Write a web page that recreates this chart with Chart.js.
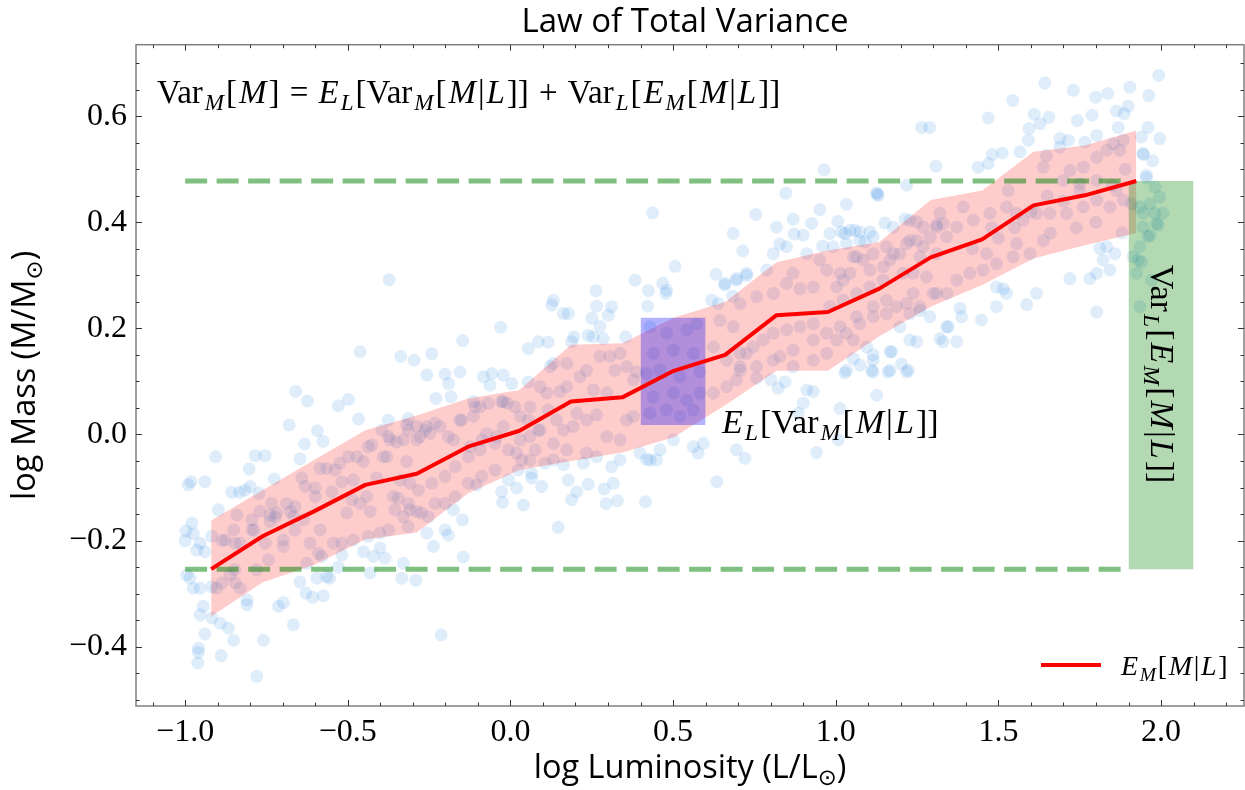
<!DOCTYPE html>
<html>
<head>
<meta charset="utf-8">
<title>Law of Total Variance</title>
<script src="https://cdn.jsdelivr.net/npm/chart.js@4.4.1/dist/chart.umd.min.js"></script>
<style>
  html, body { margin: 0; padding: 0; background: #fff; overflow: hidden; }
  #wrap { width: 1245px; height: 790px; }
</style>
</head>
<body>
<div id="wrap"><canvas id="ltv"></canvas></div>
<script>
// sample of stars: [log L, log M]
const stars = [
  [-0.462,0.156],[-0.337,0.147],[-0.296,0.140],[-0.257,0.112],[-0.660,0.081],[-0.624,0.063],[-0.529,0.054],[-0.498,0.066],
  [-0.467,0.029],[-0.680,0.018],[-0.593,0.007],[-0.576,-0.013],[-0.633,-0.018],[-0.906,-0.042],[-0.784,-0.040],[-0.754,-0.040],
  [-0.803,-0.065],[-0.647,-0.046],[-0.982,-0.089],[-0.990,-0.095],[-0.939,-0.089],[-0.726,-0.084],[-0.857,-0.109],[-0.833,-0.109],
  [-0.816,-0.105],[-0.800,-0.098],[-0.773,-0.111],[-0.898,-0.142],[-0.979,-0.167],[-0.997,-0.182],[-0.975,-0.187],[-1.000,-0.200],
  [-0.954,-0.205],[-0.964,-0.218],[-0.939,-0.221],[-0.918,-0.192],[-0.995,-0.265],[-0.985,-0.271],[-0.975,-0.290],[-0.954,-0.290],
  [-0.918,-0.287],[-0.944,-0.324],[-0.954,-0.340],[-0.918,-0.346],[-0.892,-0.356],[-0.867,-0.365],[-0.939,-0.376],[-0.851,-0.388],
  [-0.759,-0.388],[-0.959,-0.403],[-0.810,-0.321],[-0.713,-0.324],[-0.698,-0.317],[-0.667,-0.359],[-0.647,-0.278],[-0.629,-0.299],
  [-0.608,-0.307],[-0.575,-0.304],[-0.595,-0.271],[-0.565,-0.268],[-0.556,-0.271],[-0.529,-0.250],[-0.431,-0.261],[-0.334,-0.271],
  [-0.291,-0.275],[-0.329,-0.243],[-0.401,-0.214],[-0.386,-0.233],[-0.421,-0.230],[-0.452,-0.221],[-0.518,-0.227],
  [-0.780,-0.456],[-0.213,-0.378],[-0.889,-0.417],[-0.959,-0.411],[-0.961,-0.431],[-0.810,-0.312],
  [-0.201,0.114],[-0.155,0.118],[-0.190,0.096],[-0.229,0.068],[-0.183,0.071],[-0.083,0.109],[-0.063,0.093],[-0.022,0.112],
  [0.004,0.096],[0.055,0.099],[-0.027,-0.108],[-0.024,-0.128],[0.040,-0.133],[0.065,-0.082],[0.019,-0.101],[-0.257,-0.186],
  [-0.237,-0.211],[-0.191,-0.190],[-0.201,-0.180],[-0.147,-0.161],[-0.145,-0.231],[-0.175,-0.142],[-0.104,-0.095],
  [-0.887,-0.200],[-0.877,-0.199],[-0.851,-0.180],[-0.841,-0.152],[-0.831,-0.205],[-0.795,-0.161],[-0.788,-0.180],[-0.770,-0.145],
  [-0.754,-0.205],[-0.739,-0.152],[-0.718,-0.148],[-0.734,-0.130],[-0.688,-0.130],[-0.677,-0.145],[-0.698,-0.199],[-0.698,-0.211],
  [-0.744,-0.236],[-0.780,-0.255],[-0.846,-0.280],[-0.831,-0.290],[-0.903,-0.290],[-0.862,-0.265],[-0.662,-0.180],[-0.641,-0.082],
  [-0.631,-0.098],[-0.600,-0.101],[-0.585,-0.064],[-0.565,-0.064],[-0.549,-0.108],[-0.585,-0.180],[-0.616,-0.205],[-0.590,-0.224],
  [-0.626,-0.243],[-0.544,-0.205],[-0.524,-0.054],[-0.518,-0.089],[-0.483,-0.086],[-0.488,-0.123],[-0.462,-0.130],[-0.503,-0.148],
  [-0.472,-0.042],[-0.452,-0.051],[-0.426,-0.020],[-0.395,0.008],[-0.380,-0.042],[-0.442,-0.117],[-0.411,-0.082],[-0.431,-0.145],
  [-0.401,-0.186],[-0.483,-0.199],[-0.360,-0.117],[-0.344,-0.120],[-0.339,-0.086],[-0.319,-0.051],[-0.309,-0.092],[-0.309,-0.142],
  [-0.288,-0.145],[-0.329,-0.155],[-0.370,-0.010],[-0.350,-0.014],[-0.329,-0.010],[-0.288,-0.010],[-0.278,-0.004],[-0.391,-0.042],
  [-0.288,0.015],[-0.319,0.018],[-0.257,0.015],[-0.375,0.027],[-0.314,0.030],[-0.739,-0.164],[-0.667,-0.155],[-0.636,-0.161],
  [-0.262,0.008],[-0.232,0.021],[-0.191,-0.004],[-0.150,0.027],[-0.109,0.052],[-0.068,0.059],[-0.027,0.062],[0.014,0.052],
  [0.055,0.027],[0.086,0.008],[0.116,0.046],[-0.129,-0.042],[-0.170,-0.061],[-0.201,-0.079],[-0.242,-0.092],[-0.283,-0.105],
  [-0.314,-0.130],[-0.355,-0.142],[-0.088,-0.010],[-0.047,-0.017],[-0.006,-0.029],[0.035,-0.048],[0.076,-0.029],[0.106,-0.054],
  [-0.129,-0.092],[-0.088,-0.079],[-0.047,-0.067],[-0.006,-0.086],[0.024,-0.067],[0.065,-0.073],[0.096,-0.098],[-0.170,-0.117],
  [-0.232,-0.130],[-0.273,-0.148],
  [-0.580,-0.230],[-0.518,-0.205],[-0.437,-0.192],[-0.375,-0.180],[-0.314,-0.174],[-0.252,-0.155],[-0.201,-0.130],
  [-0.539,-0.067],[-0.498,-0.042],[-0.437,-0.023],[-0.375,-0.004],[-0.314,0.008],[-0.847,-0.205],[-0.795,-0.180],
  [-0.723,-0.155],[-0.662,-0.136],[-0.600,-0.117],[-0.847,-0.255],[-0.887,-0.280],
  [0.685,0.379],[0.714,0.346],[0.506,0.317],[0.383,0.291],[0.468,0.285],[0.480,0.272],[0.478,0.266],[0.424,0.271],
  [0.632,0.302],[0.659,0.282],[0.695,0.294],[0.422,0.242],[0.263,0.271],[0.265,0.242],[0.311,0.241],[0.301,0.225],
  [0.250,0.219],[0.275,0.204],[0.132,0.253],[0.127,0.244],[0.163,0.228],[0.178,0.228],[0.239,0.187],[0.255,0.184],
  [0.285,0.181],[0.354,0.184],[0.195,0.184],[0.188,0.175],[0.086,0.175],[0.116,0.174],[0.055,0.162],[-0.030,0.202],
  [-0.147,0.177],[-0.242,0.152],[-0.057,0.115],[0.122,0.128],[0.619,0.253],[0.639,0.247],[0.683,0.261],[-0.373,0.292],
  [-0.114,0.062],[-0.093,0.052],[-0.022,0.062],[-0.010,0.059],[0.030,0.034],[0.060,0.052],[0.091,0.090],[0.112,0.078],
  [0.152,0.081],[0.173,0.090],[0.132,0.134],[0.173,0.134],[0.214,0.109],[0.234,0.121],[0.275,0.147],[0.306,0.147],
  [0.337,0.153],[0.321,0.121],[0.357,0.128],[0.378,0.103],[0.388,0.118],[0.255,0.084],[0.296,0.078],[0.204,0.040],
  [0.234,0.027],[0.265,0.037],[0.357,0.027],[0.378,0.034],[0.296,-0.004],[0.337,-0.010],[0.234,-0.035],[0.265,-0.042],
  [0.173,-0.029],[0.132,-0.017],[0.163,0.008],[0.193,0.015],[0.142,0.027],[0.091,0.008],[0.060,-0.004],[0.030,-0.010],
  [-0.022,0.015],[-0.042,-0.004],[-0.073,0.002],[-0.093,-0.029],[-0.124,-0.023],[-0.175,-0.010],[-0.216,0.015],[-0.247,0.002],
  [-0.155,0.027],[-0.114,0.034],[0.019,-0.035],[0.060,-0.048],[0.132,-0.048],[0.163,-0.057],
  [0.429,0.203],[0.480,0.191],[0.542,0.197],[0.573,0.209],[0.439,0.153],[0.501,0.159],[0.562,0.153],[0.419,0.115],
  [0.460,0.121],[0.521,0.109],[0.583,0.118],[0.439,0.071],[0.501,0.078],[0.542,0.065],[0.583,0.078],[0.429,0.040],
  [0.480,0.046],[0.521,0.034],[0.562,0.046],[0.644,0.215],[0.685,0.203],[0.706,0.247],[0.624,0.165],[0.706,0.128],
  [0.726,0.153],[0.624,0.078],[0.665,0.090],[0.695,0.103],
  [0.501,-0.010],[0.562,-0.023],[0.593,-0.017],[0.460,-0.029],[0.429,-0.048],[0.398,-0.035],[0.695,-0.029],[0.721,-0.045],
  [0.577,-0.035],[0.178,-0.086],[0.204,-0.108],[0.188,-0.123],[0.239,-0.094],[0.288,-0.103],[0.316,-0.092],[0.294,-0.130],
  [0.329,-0.125],[0.415,-0.127],[0.147,-0.175],[0.634,-0.089],[0.311,-0.061],[0.337,-0.048],[0.224,-0.054],[0.419,-0.047],
  [0.449,-0.048],[0.941,-0.034],[1.013,0.049],[1.008,-0.010],[1.126,0.074],[0.900,0.059],[0.885,0.040],[0.911,0.084],
  [0.931,0.081],[0.823,0.087],[0.844,0.099],[0.801,0.103],[1.115,0.118],[1.161,0.118],[1.218,0.118],[0.757,0.106],
  [1.264,0.579],[1.289,0.579],[1.308,0.506],[0.964,0.499],[1.218,0.470],[0.846,0.455],[1.127,0.453],[1.033,0.434],
  [0.951,0.424],[0.437,0.418],[0.754,0.415],[0.869,0.406],[0.926,0.398],[0.818,0.391],[1.006,0.402],[1.151,0.399],
  [1.213,0.406],[0.872,0.378],[0.900,0.376],[0.982,0.379],[1.018,0.382],[1.044,0.385],[1.074,0.382],[1.105,0.382],
  [0.828,0.359],[0.849,0.354],[0.960,0.355],[0.808,0.341],[0.659,0.285],[0.695,0.291],[0.726,0.300],
  [0.757,0.260],[0.808,0.266],[0.849,0.285],[0.890,0.275],[0.931,0.278],[0.972,0.310],[1.013,0.304],[1.054,0.335],
  [1.085,0.329],[1.115,0.341],[1.156,0.354],[1.197,0.341],[1.228,0.366],[1.269,0.354],[1.310,0.395],[1.341,0.373],
  [1.279,0.297],[1.310,0.266],[1.238,0.304],[1.167,0.329],[1.146,0.291],[1.105,0.278],[1.064,0.266],[1.023,0.253],
  [0.982,0.241],[0.931,0.209],[0.890,0.203],[0.849,0.197],[0.808,0.191],[0.777,0.178],[0.746,0.165],[0.706,0.153],
  [0.665,0.140],[1.013,0.203],[1.064,0.222],[1.115,0.241],[1.156,0.253],[1.218,0.247],[1.259,0.234],[0.972,0.191],
  [0.931,0.178],[0.869,0.159],[0.828,0.147],
  [0.726,0.304],[0.788,0.310],[0.869,0.304],[0.911,0.341],[0.951,0.329],[0.992,0.354],[1.033,0.360],[1.074,0.366],
  [1.115,0.373],[1.177,0.391],[1.269,0.391],[1.320,0.417],[0.706,0.121],[0.757,0.128],[0.808,0.140],[0.869,0.128],
  [0.931,0.140],[0.972,0.153],[1.054,0.178],
  [1.033,0.121],[1.074,0.131],[1.115,0.140],[1.167,0.156],[1.228,0.178],[1.249,0.175],[1.320,0.181],[1.341,0.203],
  [1.289,0.222],[1.095,0.165],
  [1.993,0.677],[1.643,0.663],[1.730,0.649],[1.799,0.636],[1.836,0.643],[1.904,0.655],[1.962,0.639],[1.544,0.630],
  [1.469,0.597],[1.610,0.604],[1.655,0.598],[1.628,0.586],[1.594,0.577],[1.743,0.592],[1.788,0.602],[1.863,0.610],
  [1.887,0.605],[1.899,0.619],[1.868,0.579],[1.960,0.579],[1.996,0.558],[1.940,0.561],[1.592,0.555],[1.566,0.533],
  [1.689,0.558],[1.715,0.555],[1.766,0.551],[1.802,0.564],[1.481,0.528],[1.469,0.511],[1.512,0.531],[1.438,0.504],
  [1.945,0.528],[1.974,0.516],[1.126,0.456],[1.131,0.451],[1.028,0.379],[1.059,0.385],[1.090,0.363],[1.228,0.404],
  [1.249,0.401],[1.955,0.484],[1.981,0.467],[1.996,0.448],[2.006,0.417],[1.986,0.398],[1.966,0.376],[1.945,0.391],
  [1.909,0.435],[1.935,0.429],
  [1.833,0.354],[1.858,0.341],[1.822,0.329],[1.843,0.310],[1.802,0.304],[1.781,0.294],[1.914,0.335],[1.940,0.325],
  [1.720,0.294],[1.617,0.266],[1.587,0.245],[1.802,0.231],[1.494,0.278],[1.515,0.275],[1.525,0.266],[1.494,0.241],
  [1.448,0.216],[1.382,0.238],[1.387,0.222],[1.346,0.203],[1.330,0.175],[1.372,0.175],[1.197,0.203],[1.172,0.156],
  [1.115,0.150],[1.110,0.121],[1.054,0.143],[1.028,0.116],[1.167,0.121],[1.223,0.121],[1.202,0.133],
  [1.966,0.435],[1.945,0.417],[1.981,0.417],[1.991,0.395],[1.960,0.373],[1.935,0.354],[1.930,0.329],[1.925,0.304],
  [1.971,0.291],[1.935,0.241],[1.955,0.489],[1.945,0.530],[1.812,0.351],
  [1.720,0.498],[1.761,0.504],[1.802,0.523],[1.833,0.536],[1.873,0.536],[1.884,0.555],[1.853,0.548],[1.648,0.526],
  [1.689,0.542],[1.638,0.504],[1.699,0.479],[1.750,0.473],[1.802,0.479],[1.863,0.460],[1.884,0.442],[1.843,0.429],
  [1.802,0.442],[1.761,0.429],[1.710,0.417],[1.658,0.417],[1.617,0.417],[1.576,0.404],[1.556,0.417],[1.525,0.429],
  [1.474,0.417],[1.423,0.404],[1.392,0.429],[1.372,0.391],[1.330,0.398],[1.310,0.391],[1.290,0.372],[1.249,0.366],
  [1.218,0.360],[1.177,0.341],[1.146,0.316],[1.105,0.310],[1.064,0.335],[1.044,0.304],[1.023,0.291],[1.003,0.278],
  [1.597,0.341],[1.638,0.366],[1.545,0.335],[1.494,0.322],[1.453,0.310],[1.412,0.304],[1.372,0.291],[1.341,0.266],
  [1.300,0.266],[1.259,0.241],[1.228,0.228],[1.187,0.241],[1.156,0.228],[1.115,0.222],[1.074,0.209],[1.033,0.191],
  [1.003,0.178],[1.556,0.360],[1.464,0.341],[1.259,0.335],[1.207,0.304],[1.238,0.266],[1.310,0.341],
  [1.500,0.370],[1.550,0.390],[1.600,0.420],[1.650,0.450],[1.700,0.440],[1.750,0.460],[1.800,0.400],[1.850,0.470],
  [1.890,0.500],[1.880,0.380],[1.420,0.350],[1.480,0.390],[1.530,0.460],[1.660,0.380],[1.740,0.390]
];

// binned conditional mean of log M and its spread
const binLum   = [-0.920,-0.762,-0.604,-0.446,-0.288,-0.130,0.028,0.186,0.344,0.502,0.660,0.818,0.976,1.134,1.292,1.450,1.608,1.766,1.924];
const binMean  = [-0.254,-0.192,-0.145,-0.095,-0.074,-0.023,0.007,0.062,0.070,0.120,0.150,0.225,0.231,0.275,0.334,0.368,0.432,0.451,0.478];
const binUpper = [-0.162,-0.105,-0.048,0.008,0.036,0.068,0.084,0.169,0.172,0.220,0.250,0.325,0.347,0.363,0.442,0.460,0.533,0.545,0.573];
const binLower = [-0.343,-0.279,-0.246,-0.198,-0.185,-0.111,-0.067,-0.050,-0.034,-0.005,0.055,0.120,0.120,0.185,0.241,0.282,0.332,0.357,0.380];

// spread of one bin, and the range of the mean
const boxLum  = [0.4, 0.6];
const boxMass = [0.018, 0.22];
const spanLum = [1.9, 2.1];
const guideLum = [-1.0, 1.9];

const xTicks = [-1.0, -0.5, 0.0, 0.5, 1.0, 1.5, 2.0];
const yTicks = [-0.4, -0.2, 0.0, 0.2, 0.4, 0.6];

const meanMax = Math.max(...binMean);
const meanMin = Math.min(...binMean);

const SERIF = '"Liberation Serif", "Times New Roman", serif';
const SANS = '"Open Sans", "DejaVu Sans", sans-serif';

const toPts = (xs, ys) => xs.map((x, i) => ({x: x, y: ys[i]}));
const hline = (y) => [{x: guideLum[0], y: y}, {x: guideLum[1], y: y}];
const fmt = v => (v < 0 ? '\u2212' : '') + Math.abs(v).toFixed(1);

// draws runs of [text, style]; style 'rm' upright, 'it' italic, 'sb' italic subscript
function drawMath(ctx, runs, x, y, size, align) {
  const kern = size * 0.06;
  let w = 0;
  const parts = runs.map(([t, s]) => {
    const fs = s === 'sb' ? size * 0.7 : size;
    const font = (s === 'rm' ? '' : 'italic ') + fs + 'px ' + SERIF;
    ctx.font = font;
    const pw = ctx.measureText(t).width + kern;
    w += pw;
    return {t: t, font: font, pw: pw, dy: s === 'sb' ? size * 0.2 : 0};
  });
  let cx = align === 'center' ? x - w / 2 : x;
  ctx.textAlign = 'left';
  ctx.textBaseline = 'alphabetic';
  parts.forEach(p => {
    ctx.font = p.font;
    ctx.fillText(p.t, cx, y + p.dy);
    cx += p.pw;
  });
}

// sans label, centred, with a small subscript part ('s')
function drawLabel(ctx, runs, x, y, size) {
  let w = 0;
  const parts = runs.map(([t, s]) => {
    const fs = s === 's' ? size * 0.7 : size;
    const font = fs + 'px ' + SANS;
    ctx.font = font;
    const pw = ctx.measureText(t).width;
    w += pw;
    return {t: t, font: font, pw: pw, dy: s === 's' ? size * 0.22 : 0};
  });
  let cx = x - w / 2;
  ctx.textAlign = 'left';
  ctx.textBaseline = 'alphabetic';
  parts.forEach(p => {
    ctx.font = p.font;
    ctx.fillText(p.t, cx, y + p.dy);
    cx += p.pw;
  });
}

const topFormula = [
  ['Var','rm'],['M','sb'],['[','rm'],['M','it'],[']','rm'],[' = ','rm'],
  ['E','it'],['L','sb'],['[Var','rm'],['M','sb'],['[','rm'],['M','it'],['|','rm'],['L','it'],[']]','rm'],[' + ','rm'],
  ['Var','rm'],['L','sb'],['[','rm'],['E','it'],['M','sb'],['[','rm'],['M','it'],['|','rm'],['L','it'],[']]','rm']
];
const withinLabel = [['E','it'],['L','sb'],['[Var','rm'],['M','sb'],['[','rm'],['M','it'],['|','rm'],['L','it'],[']]','rm']];
const betweenLabel = [['Var','rm'],['L','sb'],['[','rm'],['E','it'],['M','sb'],['[','rm'],['M','it'],['|','rm'],['L','it'],[']]','rm']];
const legendLabel = [['E','it'],['M','sb'],['[','rm'],['M','it'],['|','rm'],['L','it'],[']','rm']];

const decorations = {
  id: 'decorations',
  beforeDraw(chart) {
    const ctx = chart.ctx;
    ctx.save();
    ctx.fillStyle = '#fff';
    ctx.fillRect(0, 0, chart.width, chart.height);
    ctx.restore();
  },
  afterDraw(chart) {
    const {ctx, chartArea: a, scales: {x, y}} = chart;
    ctx.save();

    // frame
    ctx.strokeStyle = '#7f7f7f';
    ctx.lineWidth = 1.5;
    ctx.strokeRect(a.left, a.top, a.right - a.left, a.bottom - a.top);

    // inward ticks on all four sides
    ctx.strokeStyle = '#333';
    ctx.lineWidth = 1;
    ctx.beginPath();
    for (let k = -11; k <= 22; k++) {
      const px = Math.round(x.getPixelForValue(k / 10)) + 0.5;
      const len = k % 5 === 0 ? 6 : 3.5;
      ctx.moveTo(px, a.bottom); ctx.lineTo(px, a.bottom - len);
      ctx.moveTo(px, a.top); ctx.lineTo(px, a.top + len);
    }
    for (let k = -10; k <= 14; k++) {
      const py = Math.round(y.getPixelForValue(k * 0.05)) + 0.5;
      const len = k % 4 === 0 ? 6 : 3.5;
      ctx.moveTo(a.left, py); ctx.lineTo(a.left + len, py);
      ctx.moveTo(a.right, py); ctx.lineTo(a.right - len, py);
    }
    ctx.stroke();

    ctx.fillStyle = '#000';

    // title
    ctx.font = '33px ' + SANS;
    ctx.textAlign = 'center';
    ctx.textBaseline = 'alphabetic';
    ctx.fillText('Law of Total Variance', (a.left + a.right) / 2 - 5, 31.5);

    // axis titles
    drawLabel(ctx, [['log Luminosity (L/L',''],['\u2299','s'],[')','']], (a.left + a.right) / 2, 778, 32.5);
    ctx.save();
    ctx.translate(35, (a.top + a.bottom) / 2);
    ctx.rotate(-Math.PI / 2);
    drawLabel(ctx, [['log Mass (M/M',''],['\u2299','s'],[')','']], 0, 0, 32.5);
    ctx.restore();

    // formula and annotations
    drawMath(ctx, topFormula, 157, 103, 33, 'left');
    drawMath(ctx, withinLabel, x.getPixelForValue(0.65), y.getPixelForValue(0.002), 34, 'left');
    ctx.save();
    ctx.translate(x.getPixelForValue((spanLum[0] + spanLum[1]) / 2), y.getPixelForValue((meanMax + meanMin) / 2));
    ctx.rotate(Math.PI / 2);
    drawMath(ctx, betweenLabel, 0, 10, 34, 'center');
    ctx.restore();

    // legend
    ctx.strokeStyle = '#ff0000';
    ctx.lineWidth = 4;
    ctx.beginPath();
    ctx.moveTo(1041, 665); ctx.lineTo(1101, 665);
    ctx.stroke();
    drawMath(ctx, legendLabel, 1121, 675, 28, 'left');

    ctx.restore();
  }
};

const lineOpts = {pointRadius: 0, tension: 0, borderJoinStyle: 'round'};

new Chart(document.getElementById('ltv'), {
  type: 'line',
  data: {
    datasets: [
      Object.assign({label: 'mean', data: toPts(binLum, binMean), borderColor: '#ff0000', borderWidth: 4, fill: false}, lineOpts),
      Object.assign({label: 'bin spread', data: [{x: boxLum[0], y: boxMass[1]}, {x: boxLum[1], y: boxMass[1]}],
        borderColor: 'transparent', borderWidth: 0, backgroundColor: 'rgba(0,0,255,0.3)', fill: {value: boxMass[0]}}, lineOpts),
      Object.assign({label: 'mean range', data: [{x: spanLum[0], y: meanMax}, {x: spanLum[1], y: meanMax}],
        borderColor: 'transparent', borderWidth: 0, backgroundColor: 'rgba(0,128,0,0.3)', fill: {value: meanMin}}, lineOpts),
      Object.assign({label: 'max', data: hline(meanMax), borderColor: 'rgba(0,128,0,0.5)', borderWidth: 5,
        borderDash: [22, 9.5], borderCapStyle: 'butt', fill: false}, lineOpts),
      Object.assign({label: 'min', data: hline(meanMin), borderColor: 'rgba(0,128,0,0.5)', borderWidth: 5,
        borderDash: [22, 9.5], borderCapStyle: 'butt', fill: false}, lineOpts),
      Object.assign({label: 'upper', data: toPts(binLum, binUpper), borderColor: 'transparent', borderWidth: 0,
        backgroundColor: 'rgba(255,0,0,0.2)', fill: '+1'}, lineOpts),
      Object.assign({label: 'lower', data: toPts(binLum, binLower), borderColor: 'transparent', borderWidth: 0, fill: false}, lineOpts),
      {label: 'stars', data: stars.map(([l, m]) => ({x: l, y: m})), showLine: false, fill: false,
        pointRadius: 6.5, pointBorderWidth: 0, pointBackgroundColor: 'rgba(30,130,230,0.14)', pointBorderColor: 'transparent'}
    ]
  },
  options: {
    responsive: true,
    maintainAspectRatio: false,
    animation: false,
    events: [],
    layout: {autoPadding: false, padding: {top: 44.7, right: 1, bottom: 0, left: 0}},
    plugins: {
      legend: {display: false},
      tooltip: {enabled: false},
      title: {display: false}
    },
    scales: {
      x: {
        type: 'linear', min: -1.151, max: 2.255,
        grid: {display: false, drawTicks: false},
        border: {display: false},
        afterBuildTicks: s => { s.ticks = xTicks.map(v => ({value: v})); },
        afterFit: s => { s.height = 84; },
        ticks: {padding: 7, color: '#000', font: {family: SERIF, size: 32}, maxRotation: 0, autoSkip: false, callback: v => fmt(v)}
      },
      y: {
        type: 'linear', min: -0.512, max: 0.735,
        grid: {display: false, drawTicks: false},
        border: {display: false},
        afterBuildTicks: s => { s.ticks = yTicks.map(v => ({value: v})); },
        afterFit: s => { s.width = 136; },
        ticks: {padding: 9, color: '#000', font: {family: SERIF, size: 32}, autoSkip: false, callback: v => fmt(v)}
      }
    }
  },
  plugins: [decorations]
});
</script>
</body>
</html>
